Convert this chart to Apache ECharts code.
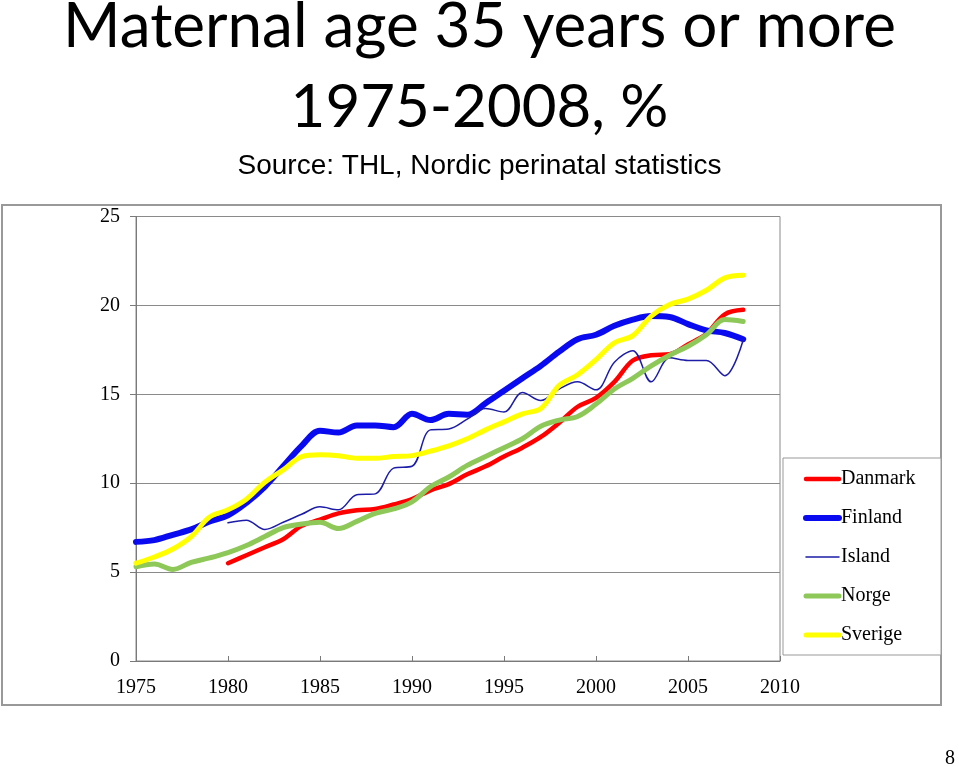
<!DOCTYPE html>
<html>
<head>
<meta charset="utf-8">
<script src="https://cdn.jsdelivr.net/npm/echarts@6/dist/echarts.min.js"></script>
<style>
html,body{margin:0;padding:0;background:#fff;}
#chart{width:959px;height:767px;}
</style>
</head>
<body>
<div id="chart"></div>
<script>
// ---- Data ----
const years = [1975,1976,1977,1978,1979,1980,1981,1982,1983,1984,1985,1986,1987,1988,1989,1990,1991,1992,1993,1994,1995,1996,1997,1998,1999,2000,2001,2002,2003,2004,2005,2006,2007,2008];
const danmark = [null,null,null,null,null,5.5,5.95,6.4,6.85,7.6,7.95,8.3,8.48,8.55,8.8,9.1,9.6,9.95,10.5,10.95,11.5,12.0,12.6,13.4,14.3,14.8,15.7,16.9,17.2,17.25,17.8,18.4,19.5,19.75];
const finland = [6.7,6.8,7.1,7.4,7.85,8.2,8.9,9.8,10.95,12.1,12.95,12.85,13.25,13.25,13.15,13.9,13.55,13.9,13.85,14.5,15.2,15.9,16.6,17.4,18.1,18.35,18.85,19.2,19.4,19.35,18.95,18.6,18.45,18.1];
const island = [null,null,null,null,null,7.77,7.92,7.4,7.8,8.25,8.67,8.5,9.35,9.4,10.85,10.95,13.0,13.05,13.6,14.2,14.0,15.1,14.65,15.3,15.7,15.25,16.8,17.45,15.7,17.05,16.9,16.9,16.05,18.05];
const norge = [5.3,5.45,5.15,5.55,5.8,6.1,6.5,7.0,7.5,7.7,7.8,7.45,7.85,8.3,8.55,8.95,9.8,10.35,11.0,11.5,12.0,12.5,13.2,13.55,13.75,14.45,15.3,15.9,16.6,17.2,17.7,18.35,19.2,19.1];
const sverige = [5.5,5.85,6.3,7.0,8.1,8.5,9.1,10.05,10.75,11.5,11.6,11.55,11.4,11.4,11.5,11.55,11.8,12.1,12.5,13.0,13.45,13.9,14.2,15.5,16.1,16.95,17.9,18.3,19.4,20.05,20.35,20.85,21.55,21.7];
const seriesNames = ['Danmark','Finland','Island','Norge','Sverige'];
const titleLine1 = 'Maternal age 35 years or more';
const titleLine2 = '1975-2008, %';
const subtitle = 'Source: THL, Nordic perinatal statistics';

function pairs(vals){
  const out = [];
  for (let i = 0; i < years.length; i++) {
    if (vals[i] !== null) out.push([years[i], vals[i]]);
  }
  return out;
}

const serif = '"Liberation Serif","Times New Roman",serif';
const styles = [
  {color:'#FF0000', width:4.5},
  {color:'#0A0AF0', width:6},
  {color:'#1C1CA8', width:1.5},
  {color:'#8DC858', width:5},
  {color:'#FFFF00', width:5}
];
const values = [danmark, finland, island, norge, sverige];

const chart = echarts.init(document.getElementById('chart'), null, {renderer:'canvas'});
chart.setOption({
  animation:false,
  backgroundColor:'#fff',
  title:[
    {text:titleLine1, left:'center', top:-9, textStyle:{fontFamily:'Lato', fontWeight:'normal', fontSize:62, color:'#000'}},
    {text:titleLine2, left:'center', top:73, textStyle:{fontFamily:'Lato', fontWeight:'normal', fontSize:60, color:'#000'}},
    {text:subtitle, left:'center', top:147, textStyle:{fontFamily:'"Liberation Sans",Arial,sans-serif', fontWeight:'normal', fontSize:28, color:'#000'}}
  ],
  graphic:[
    {type:'rect', shape:{x:2, y:205, width:939, height:500}, style:{fill:'none', stroke:'#999', lineWidth:2}, z:-10, silent:true},
    {type:'rect', shape:{x:783, y:458, width:158, height:197}, style:{fill:'#fff', stroke:'#999', lineWidth:1}, z:5, silent:true},
    {type:'text', x:945, y:749, style:{text:'8', font:'20px "Liberation Serif"', fill:'#000'}, silent:true}
  ],
  grid:{left:136, right:179, top:216.5, bottom:106, show:true, borderColor:'#8a8a8a', borderWidth:1, backgroundColor:'transparent'},
  xAxis:{
    type:'value', min:1975, max:2010, interval:5,
    axisLine:{show:true, lineStyle:{color:'#7a7a7a', width:1}},
    axisTick:{show:true, inside:true, length:5, lineStyle:{color:'#7a7a7a'}},
    axisLabel:{fontFamily:serif, fontSize:20, color:'#000', margin:17, formatter:v=>String(v)},
    splitLine:{show:false}
  },
  yAxis:{
    type:'value', min:0, max:25, interval:5,
    axisLine:{show:true, lineStyle:{color:'#7a7a7a', width:1}},
    axisTick:{show:true, inside:false, length:6, lineStyle:{color:'#7a7a7a'}},
    axisLabel:{fontFamily:serif, fontSize:20, color:'#000', margin:16},
    splitLine:{show:true, lineStyle:{color:'#8a8a8a', width:1}}
  },
  legend:{
    orient:'vertical', left:803, top:469, padding:0, itemWidth:33, itemHeight:14, itemGap:19,
    textStyle:{fontFamily:serif, fontSize:20, color:'#000', lineHeight:20, padding:[0,0,0,-3]},
    itemStyle:{opacity:0},
    lineStyle:{width:'inherit', cap:'round'},
    data:seriesNames, z:10
  },
  series: seriesNames.map((name,i)=>({
    name:name, type:'line', data:pairs(values[i]), smooth:0.35,
    symbol:'none', showSymbol:false, connectNulls:false,
    lineStyle:{color:styles[i].color, width:styles[i].width, cap:'round', join:'round'},
    itemStyle:{color:styles[i].color}
  }))
});
</script>
</body>
</html>
